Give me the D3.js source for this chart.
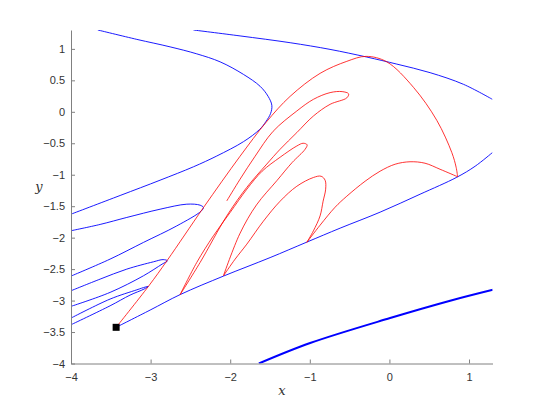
<!DOCTYPE html>
<html><head><meta charset="utf-8">
<script src="https://cdn.jsdelivr.net/npm/d3@7"></script>
<style>body{margin:0;background:#fff}</style>
</head><body>
<svg id="c" width="545" height="409"></svg>
<script>
// ---- data ----
const xTicks = [-4, -3, -2, -1, 0, 1];
const yTicks = [-4, -3.5, -3, -2.5, -2, -1.5, -1, -0.5, 0, 0.5, 1];
const xDomain = [-4, 1.295];
const yDomain = [-4, 1.3];
const fixedPoint = [-3.433, -3.425];

// stable manifolds (blue)
const blueFold = [[-3.663,1.30],[-3.173,1.151],[-2.755,1.032],[-2.420,0.921],[-2.127,0.794],[-1.834,0.595],[-1.624,0.405],[-1.524,0.246],[-1.477,0.103],[-1.492,-0.024],[-1.549,-0.151],[-1.630,-0.280],[-1.834,-0.475],[-2.168,-0.702],[-2.462,-0.874],[-2.881,-1.087],[-3.383,-1.330],[-4.0,-1.627]];
const blueTop = [[-2.462,1.30],[-1.876,1.206],[-1.247,1.098],[-0.746,0.992],[-0.284,0.870],[0.093,0.758],[0.511,0.622],[0.930,0.437],[1.294,0.198]];
const blueBranch = [[-3.433,-3.425],[-3.006,-3.151],[-2.629,-2.905],[-2.085,-2.611],[-1.499,-2.317],[-1.038,-2.071],[-0.619,-1.849],[-0.117,-1.595],[0.385,-1.310],[0.847,-1.040],[1.077,-0.865],[1.294,-0.648]];
const blueBottom = [[-1.64,-4.0],[-0.996,-3.675],[0.009,-3.278],[0.763,-3.003],[1.299,-2.829]];
const blueLobe1 = [[-4.0,-1.89],[-3.634,-1.79],[-3.299,-1.679],[-2.881,-1.548],[-2.545,-1.468],[-2.378,-1.484],[-2.337,-1.521],[-2.366,-1.579],[-2.671,-1.813],[-3.090,-2.076],[-3.509,-2.341],[-4.0,-2.611]];
const blueLobe2 = [[-4.0,-2.844],[-3.634,-2.659],[-3.299,-2.500],[-2.965,-2.384],[-2.843,-2.349],[-2.789,-2.368],[-2.856,-2.421],[-3.090,-2.606],[-3.509,-2.870],[-4.0,-3.092]];
const blueLobe3 = [[-4.0,-3.278],[-3.509,-2.976],[-3.173,-2.829],[-3.069,-2.786],[-3.028,-2.775],[-3.082,-2.817],[-3.258,-2.913],[-3.509,-3.083],[-4.0,-3.384]];

// unstable manifolds (red)
const redMain = [[-3.433,-3.425],[-3.028,-2.775],[-2.789,-2.357],[-2.337,-1.524],[-1.876,-0.706],[-1.549,-0.167],[-1.247,0.246],[-0.871,0.611],[-0.535,0.802],[-0.293,0.881],[-0.033,0.794],[0.302,0.389],[0.595,-0.135],[0.784,-0.648],[0.838,-0.881],[0.857,-1.032]];
const redArc = [[-1.038,-2.076],[-0.871,-1.802],[-0.682,-1.516],[-0.535,-1.341],[-0.305,-1.103],[-0.117,-0.944],[0.072,-0.833],[0.259,-0.794],[0.447,-0.817],[0.636,-0.913],[0.857,-1.032]];
const redLobe1 = [[-2.085,-2.606],[-1.938,-2.341],[-1.791,-2.103],[-1.583,-1.738],[-1.373,-1.421],[-1.163,-1.183],[-0.955,-1.044],[-0.858,-1.024],[-0.808,-1.087],[-0.801,-1.230],[-0.833,-1.421],[-0.871,-1.654],[-0.955,-1.892],[-1.038,-2.076]];
const redLobe2 = [[-2.629,-2.905],[-2.420,-2.394],[-2.211,-1.971],[-2.001,-1.600],[-1.791,-1.230],[-1.599,-0.944],[-1.373,-0.722],[-1.163,-0.543],[-1.084,-0.500],[-1.034,-0.524],[-1.059,-0.595],[-1.222,-0.806],[-1.411,-1.090],[-1.670,-1.480],[-1.880,-1.940],[-2.085,-2.606]];
const redLobe3 = [[-2.043,-1.416],[-1.876,-1.071],[-1.687,-0.706],[-1.461,-0.310],[-1.163,0.013],[-0.955,0.198],[-0.745,0.305],[-0.594,0.321],[-0.513,0.286],[-0.535,0.222],[-0.745,0.119],[-0.955,-0.067],[-1.163,-0.330],[-1.373,-0.595],[-1.540,-0.830],[-1.791,-1.200],[-2.043,-1.654],[-2.378,-2.394],[-2.629,-2.905]];

// ---- chart ----
const m = {left: 71, right: 492.5, top: 30, bottom: 363.5};
const x = d3.scaleLinear().domain(xDomain).range([m.left, m.right]);
const y = d3.scaleLinear().domain(yDomain).range([m.bottom, m.top]);
const svg = d3.select("#c");

svg.append("defs").append("clipPath").attr("id","clip")
  .append("rect").attr("x", m.left).attr("y", m.top)
  .attr("width", m.right - m.left).attr("height", m.bottom - m.top);

const g = svg.append("g").attr("clip-path","url(#clip)");
const line = d3.line().x(d => x(d[0])).y(d => y(d[1])).curve(d3.curveCatmullRom.alpha(0.5));

const blues = [blueFold, blueTop, blueBranch, blueLobe1, blueLobe2, blueLobe3];
blues.forEach(d => g.append("path").attr("d", line(d)).attr("fill","none").attr("stroke","#0000ff").attr("stroke-width",0.9));
g.append("path").attr("d", line(blueBottom)).attr("fill","none").attr("stroke","#0000ff").attr("stroke-width",2);

const reds = [redMain, redArc, redLobe1, redLobe2, redLobe3];
reds.forEach(d => g.append("path").attr("d", line(d)).attr("fill","none").attr("stroke","#ff0000").attr("stroke-width",0.8));

svg.append("rect").attr("x", x(fixedPoint[0]) - 3.5).attr("y", y(fixedPoint[1]) - 3.5)
  .attr("width",7).attr("height",7).attr("fill","#000");

// axes
const font = "'Liberation Sans', Arial, sans-serif";
const xAxis = d3.axisBottom(x).tickValues(xTicks).tickSizeInner(-4).tickSizeOuter(0).tickPadding(8).tickFormat(d3.format("~g"));
const yAxis = d3.axisLeft(y).tickValues(yTicks).tickSizeInner(-4).tickSizeOuter(0).tickPadding(6).tickFormat(d3.format("~g"));
const gx = svg.append("g").attr("transform", `translate(0,${m.bottom})`).call(xAxis);
const gy = svg.append("g").attr("transform", `translate(${m.left},0)`).call(yAxis);
[gx, gy].forEach(a => {
  a.select(".domain").attr("stroke","#808080");
  a.selectAll(".tick line").attr("stroke","#808080");
  a.selectAll("text").attr("fill","#333").style("font-family", font).style("font-size","11px");
});
gx.selectAll("text").attr("dy","0.9em");

svg.append("text").attr("x", 282).attr("y", 395).attr("text-anchor","middle")
  .style("font-family","'DejaVu Serif', serif").style("font-style","italic").style("font-size","13px").attr("fill","#333").text("x");
svg.append("text").attr("x", 39).attr("y", 191).attr("text-anchor","middle")
  .style("font-family","'DejaVu Serif', serif").style("font-style","italic").style("font-size","13px").attr("fill","#333").text("y");
</script>
</body></html>
